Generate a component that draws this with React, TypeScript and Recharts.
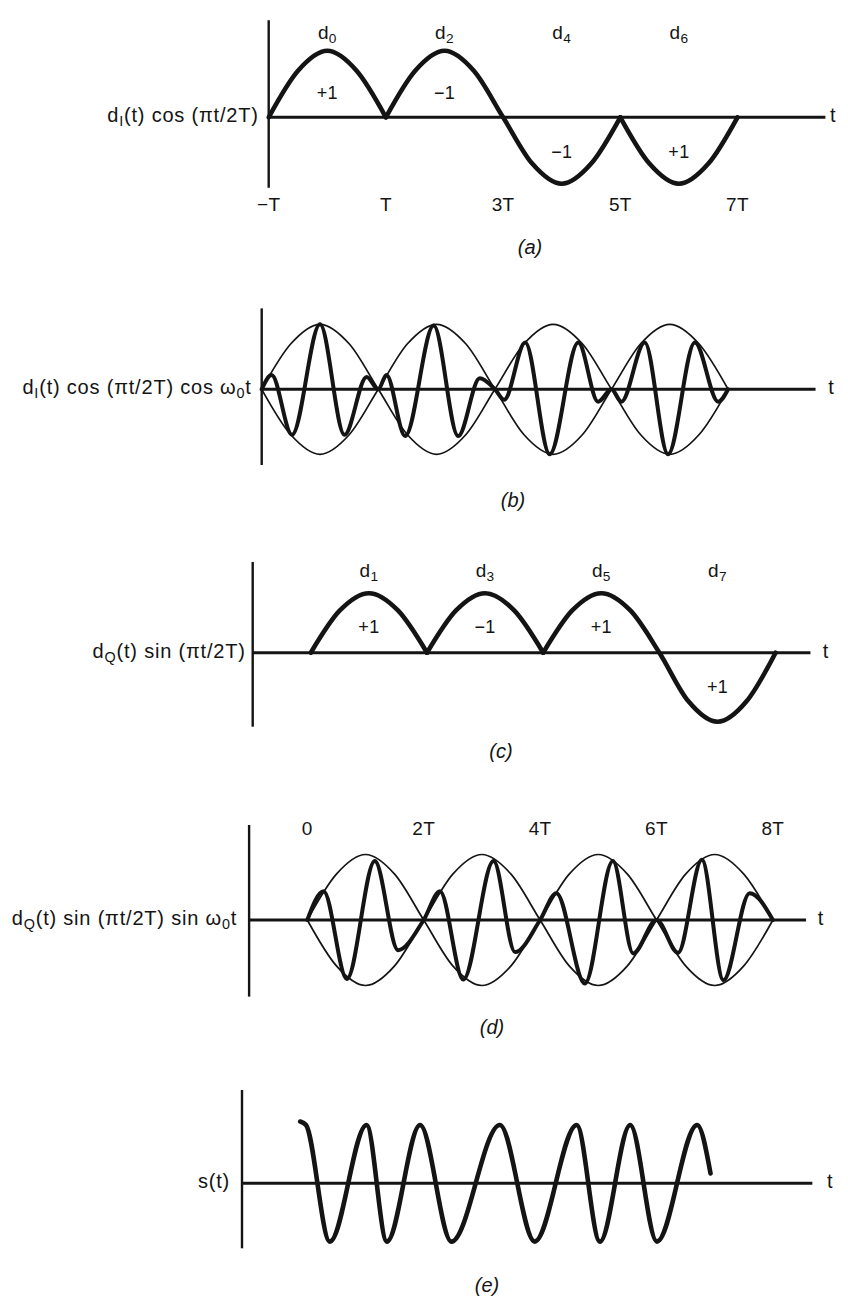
import React from "react";
import { LineChart, Line, XAxis, YAxis, ReferenceLine, ReferenceDot } from "recharts";

const W = 848;
const INK = "#141414";
const FONT = '"Liberation Sans", Arial, sans-serif';

// (a) d_I(t) cos(pi t / 2T), time in units of T
const A_T = [-1, -0.5, 0, 0.5, 1, 1.5, 2, 2.5, 3, 3.5, 4, 4.5, 5, 5.5, 6, 6.5, 7];
const A_V = [0, 0.7, 1, 0.7, 0, 0.7, 1, 0.7, 0, -0.7, -1, -0.7, 0, -0.7, -1, -0.7, 0];
const A_CUSPS = [1, 5];
const A_BITS_AT = [0, 2, 4, 6];
const A_BITS = ["d_0", "d_2", "d_4", "d_6"];
const A_SIGNS = ["+1", "−1", "−1", "+1"];
const A_TICKS = [-1, 1, 3, 5, 7];
const A_TICK_LABELS = ["−T", "T", "3T", "5T", "7T"];

// (b) envelope and modulated carrier
const B_ENV_T = [-1, -0.5, 0, 0.5, 1, 1.5, 2, 2.5, 3, 3.5, 4, 4.5, 5, 5.5, 6, 6.5, 7];
const B_ENV_UP = [0, 0.7, 1, 0.7, 0, -0.7, -1, -0.7, 0, 0.7, 1, 0.7, 0, -0.7, -1, -0.7, 0];
const B_ENV_DN = [0, -0.7, -1, -0.7, 0, 0.7, 1, 0.7, 0, -0.7, -1, -0.7, 0, 0.7, 1, 0.7, 0];
const B_T = [-1, -0.83, -0.48, 0, 0.42, 0.8, 1, 1.14, 1.46, 1.95, 2.37, 2.74, 3, 3.16, 3.52, 3.94, 4.43, 4.77, 5, 5.17, 5.57, 5.97, 6.43, 6.83, 7];
const B_V = [0, 0.22, -0.7, 1, -0.7, 0.19, 0, 0.22, -0.72, 0.98, -0.72, 0.17, 0, -0.16, 0.72, -1, 0.72, -0.19, 0, -0.19, 0.72, -1, 0.72, -0.19, 0];

// (c) d_Q(t) sin(pi t / 2T)
const C_T = [0, 0.5, 1, 1.5, 2, 2.5, 3, 3.5, 4, 4.5, 5, 5.5, 6, 6.5, 7, 7.5, 8];
const C_V = [0, 0.66, 0.93, 0.66, 0, 0.66, 0.93, 0.66, 0, 0.66, 0.93, 0.66, 0, -0.76, -1.08, -0.76, 0];
const C_CUSPS = [2, 4];
const C_BITS_AT = [1, 3, 5, 7];
const C_BITS = ["d_1", "d_3", "d_5", "d_7"];
const C_SIGNS = ["+1", "−1", "+1", "+1"];

// (d) envelope and modulated carrier
const D_ENV_T = [0, 0.5, 1, 1.5, 2, 2.5, 3, 3.5, 4, 4.5, 5, 5.5, 6, 6.5, 7, 7.5, 8];
const D_ENV_UP = [0, 0.7, 1, 0.7, 0, -0.7, -1, -0.7, 0, 0.7, 1, 0.7, 0, -0.7, -1, -0.7, 0];
const D_ENV_DN = [0, -0.7, -1, -0.7, 0, 0.7, 1, 0.7, 0, -0.7, -1, -0.7, 0, 0.7, 1, 0.7, 0];
const D_T = [0, 0.28, 0.68, 1.16, 1.56, 2, 2.28, 2.68, 3.2, 3.57, 4, 4.28, 4.77, 5.25, 5.6, 6, 6.37, 6.78, 7.15, 7.6, 8];
const D_V = [0, 0.44, -0.9, 0.9, -0.46, 0, 0.44, -0.91, 0.9, -0.49, 0, 0.41, -0.97, 0.9, -0.51, 0, -0.5, 0.92, -0.92, 0.41, 0];
const D_TICKS = [0, 2, 4, 6, 8];
const D_TICK_LABELS = ["0", "2T", "4T", "6T", "8T"];

// (e) s(t)
const S_T = [0, 0.1, 0.51, 1.14, 1.49, 2.06, 2.6, 3.43, 4.03, 4.75, 5.15, 5.67, 6.13, 6.82, 7.05];
const S_V = [1.06, 1.0, -1, 1, -1, 1, -1, 1, -1, 1, -1, 1, -1, 1, 0.17];

const NAMES = [
  "d_I(t) cos (πt/2T)",
  "d_I(t) cos (πt/2T) cos ω_0t",
  "d_Q(t) sin (πt/2T)",
  "d_Q(t) sin (πt/2T) sin ω_0t",
  "s(t)",
];
const CAPTIONS = ["(a)", "(b)", "(c)", "(d)", "(e)"];

// layout of each panel: pixel of t=0, px per T, pixel of zero line, px per unit
const PANELS = [
  { top: 0, height: 232, x0: 327.3, pxT: 58.6, axisY: 117.3, pxU: 66.5, yAxis: [-1.06, 1.46], xEnd: 8.5, tAt: 8.63, leftDx: -10, cap: [530, 247] },
  { top: 290, height: 190, x0: 320.0, pxT: 58.3, axisY: 389.3, pxU: 65, yAxis: [-1.165, 1.245], xEnd: 8.5, tAt: 8.77, leftDx: -10, cap: [513, 500] },
  { top: 550, height: 190, x0: 310.8, pxT: 58.1, axisY: 652.7, pxU: 64, yAxis: [-1.156, 1.417], xEnd: 8.6, tAt: 8.86, leftDx: -7, cap: [501, 751] },
  { top: 800, height: 205, x0: 307.3, pxT: 58.2, axisY: 920, pxU: 65.5, yAxis: [-1.17, 1.45], xEnd: 8.57, tAt: 8.82, leftDx: -12, cap: [492, 1027] },
  { top: 1075, height: 185, x0: 300.2, pxT: 58.2, axisY: 1183.3, pxU: 58.3, yAxis: [-1.115, 1.6], xEnd: 8.8, tAt: 9.1, leftDx: -12, cap: [487, 1285] },
];

const zip = (ts: number[], vs: number[]) => ts.map((t, i) => ({ t, v: vs[i] }));

function splitAt(ts: number[], vs: number[], cusps: number[]) {
  const out: { t: number; v: number }[][] = [];
  let cur: { t: number; v: number }[] = [];
  ts.forEach((t, i) => {
    cur.push({ t, v: vs[i] });
    if (cusps.includes(t)) {
      out.push(cur);
      cur = [{ t, v: vs[i] }];
    }
  });
  if (cur.length > 1) out.push(cur);
  return out;
}

function Rich({ x, y, s, size, anchor = "middle", spacing = 0.3 }: any) {
  const parts: { text: string; sub: boolean }[] = [];
  let buf = "";
  for (let i = 0; i < s.length; i++) {
    if (s[i] === "_" && i + 1 < s.length) {
      if (buf) parts.push({ text: buf, sub: false });
      buf = "";
      parts.push({ text: s[i + 1], sub: true });
      i++;
    } else buf += s[i];
  }
  if (buf) parts.push({ text: buf, sub: false });
  const off = size * 0.3;
  let low = false;
  return (
    <text x={x} y={y} textAnchor={anchor} dominantBaseline="central" fontFamily={FONT} fontSize={size} fill={INK} style={{ whiteSpace: "pre", letterSpacing: spacing }}>
      {parts.map((p, i) => {
        const dy = p.sub === low ? 0 : p.sub ? off : -off;
        low = p.sub;
        return (
          <tspan key={i} dy={dy || undefined} fontSize={p.sub ? size * 0.72 : size}>
            {p.text}
          </tspan>
        );
      })}
    </text>
  );
}

const label = (key: string, t: number, v: number, s: string, size: number, anchor = "middle", dx = 0, dy = 0, spacing = 0.3) => (
  <ReferenceDot
    key={key}
    x={t}
    y={v}
    r={0}
    ifOverflow="visible"
    shape={(p: any) => <Rich x={p.cx + dx} y={p.cy + dy} s={s} size={size} anchor={anchor} spacing={spacing} />}
  />
);

const curve = (key: string, data: { t: number; v: number }[], width: number) => (
  <Line
    key={key}
    data={data}
    dataKey="v"
    type="monotone"
    stroke={INK}
    strokeWidth={width}
    strokeLinecap="round"
    strokeLinejoin="round"
    dot={false}
    activeDot={false}
    isAnimationActive={false}
  />
);

function frame(i: number) {
  const p = PANELS[i];
  return [
    <ReferenceLine key={`x${i}`} segment={[{ x: -1, y: 0 }, { x: p.xEnd, y: 0 }]} stroke={INK} strokeWidth={3} ifOverflow="visible" />,
    <ReferenceLine key={`y${i}`} segment={[{ x: -1, y: p.yAxis[0] }, { x: -1, y: p.yAxis[1] }]} stroke={INK} strokeWidth={2.4} ifOverflow="visible" />,
    label(`t${i}`, p.tAt, 0, "t", 20, "middle", 0, -2),
    label(`n${i}`, -1, 0, NAMES[i], 20, "end", p.leftDx, -2, 0.8),
  ];
}

function Panel({ i, children }: { i: number; children: any }) {
  const p = PANELS[i];
  const xDomain = [-p.x0 / p.pxT, (W - p.x0) / p.pxT];
  const yDomain = [(p.axisY - (p.top + p.height)) / p.pxU, (p.axisY - p.top) / p.pxU];
  return (
    <div style={{ position: "absolute", left: 0, top: p.top }}>
      <LineChart width={W} height={p.height} margin={{ top: 0, right: 0, bottom: 0, left: 0 }}>
        <XAxis type="number" dataKey="t" domain={xDomain} allowDataOverflow hide />
        <YAxis type="number" domain={yDomain} allowDataOverflow hide />
        {children}
      </LineChart>
    </div>
  );
}

export default function App() {
  const signAt = (ts: number[], vs: number[], t: number) => vs[ts.indexOf(t)] > 0;

  const panelA = [
    ...frame(0),
    ...splitAt(A_T, A_V, A_CUSPS).map((seg, k) => curve(`a${k}`, seg, 4.6)),
    ...A_BITS.map((b, k) => label(`ab${k}`, A_BITS_AT[k], 1.28, b, 19)),
    ...A_SIGNS.map((s, k) => label(`as${k}`, A_BITS_AT[k], signAt(A_T, A_V, A_BITS_AT[k]) ? 0.37 : -0.52, s, 18)),
    ...A_TICK_LABELS.map((s, k) => label(`at${k}`, A_TICKS[k], -1.3, s, 19)),
  ];

  const panelB = [
    ...frame(1),
    curve("bu", zip(B_ENV_T, B_ENV_UP), 1.7),
    curve("bd", zip(B_ENV_T, B_ENV_DN), 1.7),
    curve("bc", zip(B_T, B_V), 4),
  ];

  const panelC = [
    ...frame(2),
    ...splitAt(C_T, C_V, C_CUSPS).map((seg, k) => curve(`c${k}`, seg, 4.6)),
    ...C_BITS.map((b, k) => label(`cb${k}`, C_BITS_AT[k], 1.29, b, 19)),
    ...C_SIGNS.map((s, k) => label(`cs${k}`, C_BITS_AT[k], signAt(C_T, C_V, C_BITS_AT[k]) ? 0.4 : -0.53, s, 18)),
  ];

  const panelD = [
    ...frame(3),
    curve("du", zip(D_ENV_T, D_ENV_UP), 1.7),
    curve("dd", zip(D_ENV_T, D_ENV_DN), 1.7),
    curve("dc", zip(D_T, D_V), 4),
    ...D_TICK_LABELS.map((s, k) => label(`dt${k}`, D_TICKS[k], 1.4, s, 19)),
  ];

  const panelE = [...frame(4), curve("s", zip(S_T, S_V), 4.6)];

  const all = [panelA, panelB, panelC, panelD, panelE];

  return (
    <div style={{ position: "absolute", left: 0, top: 0, width: W, height: 1298, background: "#fff" }}>
      {all.map((kids, i) => (
        <Panel key={i} i={i}>
          {kids}
        </Panel>
      ))}
      {CAPTIONS.map((c, i) => (
        <div
          key={c}
          style={{
            position: "absolute",
            left: PANELS[i].cap[0],
            top: PANELS[i].cap[1],
            transform: "translate(-50%, -50%)",
            fontFamily: FONT,
            fontStyle: "italic",
            fontSize: 20,
            color: INK,
            lineHeight: 1,
          }}
        >
          {c}
        </div>
      ))}
    </div>
  );
}
